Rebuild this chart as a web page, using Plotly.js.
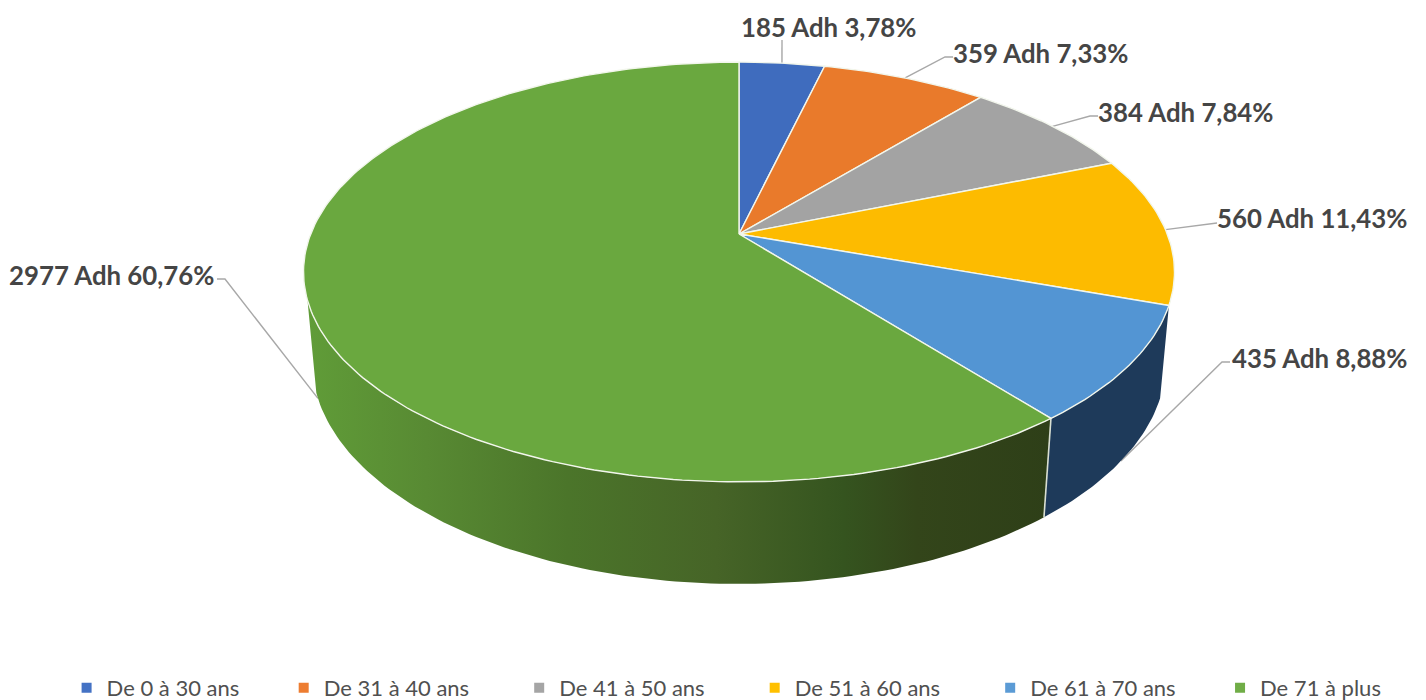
<!DOCTYPE html>
<html><head><meta charset="utf-8">
<script src="https://cdn.plot.ly/plotly-3.0.1.min.js"></script>
<style>html,body{margin:0;padding:0;background:#fff;overflow:hidden}#chart{width:1426px;height:709px}</style>
</head><body><div id="chart"></div>
<script>
const categories = ["De 0 à 30 ans","De 31 à 40 ans","De 41 à 50 ans","De 51 à 60 ans","De 61 à 70 ans","De 71 à plus"];
const adherents = [185,359,384,560,435,2977];
const topColors = ["#3f6cbe","#e97a2b","#a3a3a3","#fdbb00","#5395d3","#6aa83f"];
const legendColors = ["#4472c4","#ed7d31","#a5a5a5","#ffc000","#5b9bd5","#70ad47"];
const legendPadding = [7,8,8,8,7,0];

// Perspective of the 3-D disc (plot units = pixels, apex of the pie at 0,0)
const RX=428.3, RY=203, TILT=0.181, DEPTH=90.5, SHRINK=0.0197;
const SIDE_END_DEG=252;   // silhouette of the visible wall on the left
const total = adherents.reduce((a,b)=>a+b,0);
const cum = adherents.reduce((acc,v)=>{acc.push(acc[acc.length-1]+v);return acc;},[0]);
const deg = v => v/total*360;

function rim(d, lower){
  const r=d*Math.PI/180, u=Math.sin(r), v=Math.cos(r), w=1+TILT*v;
  return lower ? [RX*u/(w+SHRINK),(RY*v-DEPTH)/(w+SHRINK)] : [RX*u/w,RY*v/w];
}
function arc(a,b,lower){
  const pts=[], n=Math.max(2,Math.ceil(Math.abs(b-a)));
  for(let i=0;i<=n;i++) pts.push(rim(a+(b-a)*i/n,lower));
  return pts;
}
const poly=(pts,extra)=>Object.assign({x:pts.map(p=>p[0]),y:pts.map(p=>p[1]),type:'scatter',
  hoverinfo:'skip',showlegend:false},extra);

const traces=[];
// label leader lines, drawn under the disc
const labelPlacement=[ // pixel placement of each text label: left x, centre y, elbow x,y, end x,y
  {x:0,y:207,ex:43,ey:194,lx:43,ly:194},
  {x:212,y:181,ex:206,ey:177,lx:214,ly:177},
  {x:357,y:122,ex:351,ey:118,lx:359,ly:118},
  {x:476,y:16,ex:474,ey:10,lx:478,ly:11},
  {x:491,y:-124,ex:483,ey:-128,lx:491,ly:-128},
  {x:-732,y:-41,ex:-514,ey:-45,lx:-522,ly:-45}
];
adherents.forEach((v,i)=>{
  const mid=deg(cum[i]+v/2), lower=(i>=4), p=rim(mid,lower), q=labelPlacement[i];
  traces.push(poly([p,[q.ex,q.ey],[q.lx,q.ly]],{mode:'lines',line:{color:'#a8a8a8',width:1.4}}));
});
// side walls
const greenStops=[[0,'#609c38'],[0.16,'#588a33'],[0.35,'#4b752a'],[0.55,'#466427'],[0.72,'#35541f'],[0.82,'#33451a'],[1,'#2e3f18']];
function wall(a,b,extra){
  return poly(arc(a,b,false).concat(arc(b,a,true)),Object.assign({mode:'lines',fill:'toself',line:{width:0}},extra));
}
traces.push(wall(deg(cum[4]),deg(cum[5]),{fillcolor:'#1e3a5a'}));
traces.push(wall(deg(cum[5]),SIDE_END_DEG,{fillgradient:{type:'horizontal',colorscale:greenStops}}));
traces.push(poly([rim(deg(cum[5]),false),rim(deg(cum[5]),true)],{mode:'lines',line:{color:'#d9dfd2',width:1.6}}));
// top faces
adherents.forEach((v,i)=>{
  const pts=[[0,0]].concat(arc(deg(cum[i]),deg(cum[i+1]),false));
  pts.push([0,0]);
  traces.push(poly(pts,{mode:'lines',fill:'toself',fillcolor:topColors[i],line:{color:'#f2f6ec',width:1.4}}));
});
// legend entries
categories.forEach((c,i)=>{
  traces.push({x:[null],y:[null],type:'scatter',mode:'markers',name:c+'\u00a0'.repeat(legendPadding[i]),showlegend:true,hoverinfo:'skip',
    marker:{symbol:'square',size:10,color:legendColors[i]}});
});

const annotations=adherents.map((v,i)=>({
  x:labelPlacement[i].x,y:labelPlacement[i].y,xref:'x',yref:'y',xanchor:'left',yanchor:'middle',showarrow:false,
  text:v+' Adh '+(v/total*100).toFixed(2).replace('.',',')+'%',
  font:{family:'Lato, sans-serif',size:25.8,color:'#454545',weight:700}
}));

Plotly.newPlot('chart',traces,{
  width:1426,height:709,margin:{l:0,r:0,t:0,b:0},paper_bgcolor:'#fff',plot_bgcolor:'#fff',
  xaxis:{range:[-739,687],visible:false,fixedrange:true},
  yaxis:{range:[-475,234],visible:false,fixedrange:true},
  showlegend:true,annotations:annotations,
  legend:{orientation:'h',x:0.0467,xanchor:'left',y:0,yanchor:'bottom',itemwidth:30,traceorder:'normal',
    font:{family:'Lato, sans-serif',size:22,color:'#505050'},bgcolor:'rgba(0,0,0,0)'}
},{staticPlot:true,displayModeBar:false});
</script></body></html>
